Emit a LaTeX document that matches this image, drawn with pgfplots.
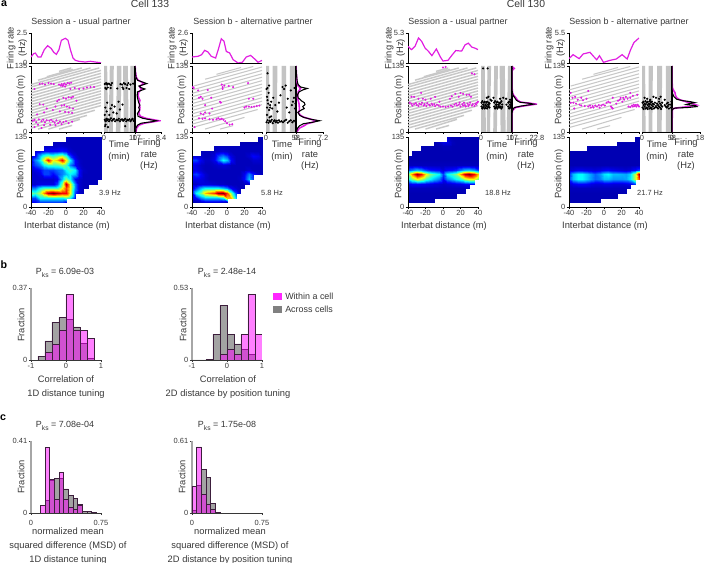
\documentclass[border=0pt]{standalone}
\usepackage{fontspec}
\setmainfont{Liberation Sans}
\usepackage{pgfplots}
\pgfplotsset{compat=1.18}
\usepackage{pgfplotstable}
\definecolor{txt}{RGB}{55,55,55}
\definecolor{mag}{RGB}{225,30,225}
\definecolor{mbar}{RGB}{255,0,255}
\definecolor{linegray}{RGB}{200,200,200}
\definecolor{bandgray}{RGB}{195,195,195}
\definecolor{edge}{RGB}{60,30,60}
\newcommand{\ticksize}{\fontsize{5.6}{6}\selectfont}
\newcommand{\labsize}{\fontsize{7}{8.6}\selectfont}
\newcommand{\ttlsize}{\fontsize{6.7}{8}\selectfont}
\newcommand{\Pks}[1]{P\raisebox{-.6ex}{\fontsize{5}{5}\selectfont ks} = #1}

\pgfplotsset{
  base/.style={scale only axis, axis x line*=bottom, axis y line*=left,
    axis line style={-,line width=.5pt,color=black}, tick style={black,line width=.4pt},
    tick align=outside, major tick length=1.6pt,
    tick label style={font=\ticksize,text=txt,inner sep=1pt}, clip=true},
  colormap={heat}{rgb255(0cm)=(0,0,160); rgb255(1cm)=(0,0,255); rgb255(3cm)=(0,255,255);
    rgb255(5cm)=(255,255,0); rgb255(7cm)=(255,0,0); rgb255(8cm)=(128,0,0)},
  hist/.style={base, width=52.5pt, height=54pt, y axis line style={color=gray!70,line width=1.1pt},
    x axis line style={color=txt}, tick style={txt}},
  gbar/.style={ybar interval, fill=black!60, fill opacity=.6, draw=edge, line width=.5pt},
  mbars/.style={ybar interval, fill=mbar, fill opacity=.5, draw=edge, line width=.5pt},
}

% rate vs distance: left, ymax, points
\newcommand{\ratepanel}[3]{
\begin{axis}[base, at={({#1*.75pt},{-63*.75pt})}, anchor=south west, width=52.5pt, height=22.5pt,
  xmin=-40, xmax=40, ymin=0, ymax=#2, xtick=\empty, ytick={0,#2}, yticklabels={0,#2}]
\addplot[mag, line width=.9pt] coordinates {#3};
\end{axis}}
% raster of flight lines and spikes
\newcommand{\rasterpanel}[4]{
\begin{axis}[base, at={({#1*.75pt},{-132*.75pt})}, anchor=south west, width=52.5pt, height=49.5pt,
  xmin=-40, xmax=40, ymin=0, ymax=135, xtick={-40,-20,0,20,40}, xticklabels={},
  ytick={0,135}, yticklabels={0,135}]
\addplot[linegray, line width=#3, unbounded coords=jump] table[x=x,y=y] {#2};
\addplot[only marks, mark=*, mark size=.55pt, color=mag] coordinates {#4};
\end{axis}}
% spikes over time
\newcommand{\timepanel}[5]{
\begin{axis}[base, at={({#1*.75pt},{-132*.75pt})}, anchor=south west, width=#2pt, height=49.5pt,
  xmin=0, xmax=#3, ymin=0, ymax=135, xtick={0,#3}, xticklabels={0,#3}, ytick=\empty]
\addplot[fill=bandgray, draw=none] coordinates {#4} \closedcycle;
\addplot[only marks, mark=*, mark size=.6pt, color=black] coordinates {#5};
\end{axis}}
% rate vs position
\newcommand{\tunepanel}[5]{
\begin{axis}[base, at={({#1*.75pt},{-132*.75pt})}, anchor=south west, width=#2pt, height=49.5pt,
  y axis line style={line width=.9pt}, xmin=0, xmax=#3, ymin=0, ymax=135, xtick={0,#3}, xticklabels={0,#3}, ytick=\empty]
\addplot[mag, line width=1.2pt] coordinates {#5};
\addplot[black, line width=.8pt] coordinates {#4};
\end{axis}}
% colour map
\newcommand{\heatpanel}[2]{
\begin{axis}[base, at={({#1*.75pt},{-207*.75pt})}, anchor=south west, width=52.5pt, height=52.5pt,
  xmin=-40, xmax=40, ymin=0, ymax=135, xtick={-40,-20,0,20,40}, xticklabels={-40,-20,0,20,40},
  ytick={0,135}, yticklabels={0,135}, point meta min=0, point meta max=8, colormap name=heat, axis on top]
\addplot[surf, shader=interp, mesh/cols=17, unbounded coords=jump, point meta=explicit]
  table[x=x,y=y,meta=v] {#2};
\end{axis}}

\pgfplotstableread[row sep=\\]{x y\\
-8 6\\7 13.5\\nan nan\\-20 6\\16 26\\nan nan\\-32 6\\24 34\\nan nan\\-40 8\\33 44.5\\nan nan\\
-40 14\\40 54\\nan nan\\-40 20\\40 60\\nan nan\\-40 26\\40 66\\nan nan\\-40 32\\40 72\\nan nan\\
-40 38\\40 78\\nan nan\\-40 44\\40 84\\nan nan\\-40 50\\40 90\\nan nan\\-40 56\\40 96\\nan nan\\
-40 62\\40 102\\nan nan\\-40 68\\40 108\\nan nan\\-40 74\\40 114\\nan nan\\-40 80\\40 120\\nan nan\\
-40 86\\40 126\\nan nan\\-40 92\\38 131\\nan nan\\-40 97\\28 131\\nan nan\\-32 106\\18 131\\nan nan\\
-22 113\\8 128\\nan nan\\-8 124\\6 131\\}\grayA
\pgfplotstableread[row sep=\\]{x y\\
-8 6\\7 13\\nan nan\\-25 6\\20 30\\nan nan\\-40 9\\35 46\\nan nan\\-40 16\\40 56\\nan nan\\
-40 23\\40 63\\nan nan\\-40 30\\40 70\\nan nan\\-40 37\\40 77\\nan nan\\-40 44\\40 84\\nan nan\\
-40 51\\40 91\\nan nan\\-40 58\\40 98\\nan nan\\-40 65\\40 105\\nan nan\\-40 72\\40 112\\nan nan\\
-40 79\\40 119\\nan nan\\-40 86\\40 126\\nan nan\\-38 94\\40 133\\nan nan\\-25 108\\30 134\\nan nan\\
-12 118\\16 132\\}\grayB

\pgfplotstableread[row sep=\\]{x y v\\
-40 9 1\\-35 9 1\\-30 9 1.5\\-25 9 1.5\\-20 9 1.5\\-15 9 1.5\\-10 9 1.5\\-5 9 1.5\\0 9 1\\5 9 nan\\10 9 nan\\15 9 nan\\20 9 nan\\25 9 nan\\30 9 nan\\35 9 nan\\40 9 nan\\
-40 18 1.5\\-35 18 1.5\\-30 18 3\\-25 18 3\\-20 18 3\\-15 18 3\\-10 18 3\\-5 18 3\\0 18 3.5\\5 18 3\\10 18 1\\15 18 nan\\20 18 nan\\25 18 nan\\30 18 nan\\35 18 nan\\40 18 nan\\
-40 27 4\\-35 27 3.5\\-30 27 4.5\\-25 27 6\\-20 27 7.5\\-15 27 8\\-10 27 7.5\\-5 27 7\\0 27 7\\5 27 5\\10 27 1.5\\15 27 .5\\20 27 .3\\25 27 nan\\30 27 nan\\35 27 nan\\40 27 nan\\
-40 36 2\\-35 36 2\\-30 36 3\\-25 36 3.5\\-20 36 3.5\\-15 36 3.5\\-10 36 3.5\\-5 36 5\\0 36 6.5\\5 36 5\\10 36 2\\15 36 .5\\20 36 .3\\25 36 .2\\30 36 nan\\35 36 nan\\40 36 nan\\
-40 45 .5\\-35 45 .5\\-30 45 .7\\-25 45 .7\\-20 45 .7\\-15 45 .7\\-10 45 1.5\\-5 45 4\\0 45 7.5\\5 45 5\\10 45 2\\15 45 .5\\20 45 .3\\25 45 .3\\30 45 .3\\35 45 .3\\40 45 nan\\
-40 54 .5\\-35 54 .5\\-30 54 .5\\-25 54 .5\\-20 54 .5\\-15 54 .5\\-10 54 .8\\-5 54 2.5\\0 54 4\\5 54 3\\10 54 1\\15 54 .5\\20 54 .3\\25 54 .3\\30 54 .3\\35 54 .3\\40 54 .3\\
-40 63 .5\\-35 63 .5\\-30 63 .7\\-25 63 1.5\\-20 63 1.5\\-15 63 1\\-10 63 1.5\\-5 63 2\\0 63 2.5\\5 63 3\\10 63 2.5\\15 63 1\\20 63 .3\\25 63 .3\\30 63 .3\\35 63 .3\\40 63 .3\\
-40 72 .5\\-35 72 .7\\-30 72 1\\-25 72 1.5\\-20 72 1.5\\-15 72 1.5\\-10 72 1.8\\-5 72 2\\0 72 3\\5 72 3.5\\10 72 3\\15 72 1\\20 72 .4\\25 72 .3\\30 72 .3\\35 72 .3\\40 72 .3\\
-40 81 1\\-35 81 1.5\\-30 81 2\\-25 81 3\\-20 81 3.5\\-15 81 3.5\\-10 81 3.5\\-5 81 4\\0 81 3.5\\5 81 2\\10 81 1\\15 81 .5\\20 81 .3\\25 81 .3\\30 81 .3\\35 81 .3\\40 81 .3\\
-40 90 1\\-35 90 2\\-30 90 3\\-25 90 5\\-20 90 7\\-15 90 5\\-10 90 5.5\\-5 90 7\\0 90 5\\5 90 3\\10 90 1\\15 90 .4\\20 90 .3\\25 90 .3\\30 90 .3\\35 90 .3\\40 90 .3\\
-40 99 .6\\-35 99 1\\-30 99 2.5\\-25 99 3.5\\-20 99 4\\-15 99 3.5\\-10 99 4\\-5 99 4.5\\0 99 3.5\\5 99 1.5\\10 99 .6\\15 99 .3\\20 99 .3\\25 99 .3\\30 99 .3\\35 99 .3\\40 99 .3\\
-40 108 nan\\-35 108 .5\\-30 108 .8\\-25 108 1\\-20 108 1\\-15 108 1\\-10 108 1\\-5 108 1.2\\0 108 1\\5 108 .5\\10 108 .3\\15 108 .3\\20 108 .3\\25 108 .3\\30 108 .3\\35 108 .3\\40 108 .3\\
-40 117 nan\\-35 117 nan\\-30 117 nan\\-25 117 .4\\-20 117 .4\\-15 117 .4\\-10 117 .5\\-5 117 .5\\0 117 .4\\5 117 .3\\10 117 .3\\15 117 .3\\20 117 .3\\25 117 .3\\30 117 .3\\35 117 .3\\40 117 .3\\
-40 126 nan\\-35 126 nan\\-30 126 nan\\-25 126 nan\\-20 126 nan\\-15 126 .3\\-10 126 .3\\-5 126 .3\\0 126 .3\\5 126 .3\\10 126 .3\\15 126 .3\\20 126 .3\\25 126 .3\\30 126 .3\\35 126 .3\\40 126 .3\\
-40 135 nan\\-35 135 nan\\-30 135 nan\\-25 135 nan\\-20 135 nan\\-15 135 nan\\-10 135 nan\\-5 135 nan\\0 135 .3\\5 135 .3\\10 135 .3\\15 135 .3\\20 135 .3\\25 135 .3\\30 135 .3\\35 135 .3\\40 135 .3\\
}\heatAa
\pgfplotstableread[row sep=\\]{x y v\\
-40 9 .3\\-35 9 .3\\-30 9 .5\\-25 9 .7\\-20 9 .7\\-15 9 .7\\-10 9 .7\\-5 9 .5\\0 9 .3\\5 9 nan\\10 9 nan\\15 9 nan\\20 9 nan\\25 9 nan\\30 9 nan\\35 9 nan\\40 9 nan\\
-40 18 .7\\-35 18 1\\-30 18 2\\-25 18 2.5\\-20 18 2.5\\-15 18 2.5\\-10 18 2.5\\-5 18 3\\0 18 5.5\\5 18 5.5\\10 18 2.5\\15 18 nan\\20 18 nan\\25 18 nan\\30 18 nan\\35 18 nan\\40 18 nan\\
-40 27 1\\-35 27 3\\-30 27 4\\-25 27 5.5\\-20 27 6\\-15 27 6.5\\-10 27 7.8\\-5 27 8\\0 27 6.5\\5 27 4\\10 27 1.5\\15 27 .5\\20 27 nan\\25 27 nan\\30 27 nan\\35 27 nan\\40 27 nan\\
-40 36 .6\\-35 36 1.5\\-30 36 2.5\\-25 36 3\\-20 36 3\\-15 36 3\\-10 36 3\\-5 36 2.5\\0 36 2\\5 36 1\\10 36 .5\\15 36 .3\\20 36 .3\\25 36 nan\\30 36 nan\\35 36 nan\\40 36 nan\\
-40 45 .3\\-35 45 .4\\-30 45 .6\\-25 45 .6\\-20 45 .6\\-15 45 .5\\-10 45 .4\\-5 45 .4\\0 45 .3\\5 45 .3\\10 45 .3\\15 45 .3\\20 45 .3\\25 45 .5\\30 45 nan\\35 45 nan\\40 45 nan\\
-40 54 .7\\-35 54 .8\\-30 54 .7\\-25 54 .5\\-20 54 .3\\-15 54 .3\\-10 54 .3\\-5 54 .3\\0 54 .3\\5 54 .3\\10 54 .3\\15 54 .4\\20 54 1\\25 54 2.5\\30 54 1.5\\35 54 nan\\40 54 nan\\
-40 63 1.2\\-35 63 1.5\\-30 63 1\\-25 63 .5\\-20 63 .3\\-15 63 .3\\-10 63 .3\\-5 63 .3\\0 63 .3\\5 63 .3\\10 63 .3\\15 63 .3\\20 63 .8\\25 63 2\\30 63 1.2\\35 63 .5\\40 63 .3\\
-40 72 .5\\-35 72 .8\\-30 72 .5\\-25 72 .3\\-20 72 .3\\-15 72 .3\\-10 72 .3\\-5 72 .3\\0 72 .3\\5 72 .3\\10 72 .3\\15 72 .3\\20 72 .3\\25 72 .5\\30 72 .3\\35 72 .3\\40 72 .3\\
-40 81 .8\\-35 81 .7\\-30 81 .4\\-25 81 .3\\-20 81 .3\\-15 81 .4\\-10 81 .5\\-5 81 .6\\0 81 .5\\5 81 .3\\10 81 .3\\15 81 .3\\20 81 .3\\25 81 .3\\30 81 .3\\35 81 .3\\40 81 .3\\
-40 90 1.5\\-35 90 1.5\\-30 90 .8\\-25 90 .4\\-20 90 .4\\-15 90 .8\\-10 90 1.8\\-5 90 3\\0 90 2.5\\5 90 1\\10 90 .3\\15 90 .3\\20 90 .3\\25 90 .3\\30 90 .5\\35 90 .5\\40 90 .3\\
-40 99 .6\\-35 99 .6\\-30 99 .4\\-25 99 .3\\-20 99 .3\\-15 99 .6\\-10 99 1.5\\-5 99 2\\0 99 1.5\\5 99 .7\\10 99 .3\\15 99 .3\\20 99 .3\\25 99 .5\\30 99 1\\35 99 .8\\40 99 .3\\
-40 108 nan\\-35 108 nan\\-30 108 .3\\-25 108 .3\\-20 108 .3\\-15 108 .3\\-10 108 .4\\-5 108 .5\\0 108 .4\\5 108 .3\\10 108 .3\\15 108 .3\\20 108 .3\\25 108 .3\\30 108 .3\\35 108 .3\\40 108 .3\\
-40 117 nan\\-35 117 nan\\-30 117 nan\\-25 117 nan\\-20 117 nan\\-15 117 .3\\-10 117 .3\\-5 117 .3\\0 117 .3\\5 117 .3\\10 117 .3\\15 117 .3\\20 117 .3\\25 117 .3\\30 117 .3\\35 117 .3\\40 117 .3\\
-40 126 nan\\-35 126 nan\\-30 126 nan\\-25 126 nan\\-20 126 nan\\-15 126 nan\\-10 126 nan\\-5 126 nan\\0 126 nan\\5 126 nan\\10 126 nan\\15 126 .2\\20 126 .2\\25 126 .2\\30 126 .2\\35 126 .2\\40 126 .2\\
-40 135 nan\\-35 135 nan\\-30 135 nan\\-25 135 nan\\-20 135 nan\\-15 135 nan\\-10 135 nan\\-5 135 nan\\0 135 nan\\5 135 nan\\10 135 nan\\15 135 nan\\20 135 nan\\25 135 nan\\30 135 nan\\35 135 .2\\40 135 .2\\
}\heatAb
\pgfplotstableread[row sep=\\]{x y v\\
-40 9 .2\\-35 9 .2\\-30 9 .2\\-25 9 .2\\-20 9 .2\\-15 9 .2\\-10 9 .2\\-5 9 nan\\0 9 nan\\5 9 nan\\10 9 nan\\15 9 nan\\20 9 nan\\25 9 nan\\30 9 nan\\35 9 nan\\40 9 nan\\
-40 18 .2\\-35 18 .2\\-30 18 .2\\-25 18 .2\\-20 18 .2\\-15 18 .2\\-10 18 .2\\-5 18 .2\\0 18 .2\\5 18 .2\\10 18 .2\\15 18 .2\\20 18 nan\\25 18 nan\\30 18 nan\\35 18 nan\\40 18 nan\\
-40 27 .2\\-35 27 .2\\-30 27 .2\\-25 27 .2\\-20 27 .2\\-15 27 .2\\-10 27 .2\\-5 27 .2\\0 27 .2\\5 27 .2\\10 27 .2\\15 27 .2\\20 27 .2\\25 27 .2\\30 27 nan\\35 27 nan\\40 27 nan\\
-40 36 .3\\-35 36 .3\\-30 36 .3\\-25 36 .3\\-20 36 .3\\-15 36 .3\\-10 36 .3\\-5 36 .3\\0 36 .3\\5 36 .3\\10 36 .3\\15 36 .3\\20 36 .3\\25 36 .3\\30 36 .3\\35 36 nan\\40 36 nan\\
-40 45 .8\\-35 45 1\\-30 45 1\\-25 45 .9\\-20 45 .8\\-15 45 .7\\-10 45 .6\\-5 45 .5\\0 45 .4\\5 45 .5\\10 45 .6\\15 45 .7\\20 45 .8\\25 45 1\\30 45 1\\35 45 1\\40 45 nan\\
-40 54 3\\-35 54 4\\-30 54 5\\-25 54 4.5\\-20 54 3.5\\-15 54 3\\-10 54 2.5\\-5 54 2\\0 54 1\\5 54 2\\10 54 2.5\\15 54 3\\20 54 3.5\\25 54 4.5\\30 54 5\\35 54 5\\40 54 4\\
-40 63 4\\-35 63 6\\-30 63 7.8\\-25 63 7\\-20 63 5\\-15 63 4\\-10 63 3.5\\-5 63 3\\0 63 1.5\\5 63 3\\10 63 3.5\\15 63 4\\20 63 6\\25 63 7.5\\30 63 8\\35 63 7\\40 63 5.5\\
-40 72 1.5\\-35 72 2\\-30 72 2.5\\-25 72 2.2\\-20 72 1.5\\-15 72 1.2\\-10 72 1.1\\-5 72 1\\0 72 .6\\5 72 1\\10 72 1.1\\15 72 1.3\\20 72 2\\25 72 2.5\\30 72 2.6\\35 72 2.2\\40 72 1.5\\
-40 81 .3\\-35 81 .3\\-30 81 .3\\-25 81 .3\\-20 81 .3\\-15 81 .3\\-10 81 .3\\-5 81 .3\\0 81 .3\\5 81 .3\\10 81 .3\\15 81 .3\\20 81 .3\\25 81 .3\\30 81 .3\\35 81 .3\\40 81 .3\\
-40 90 .2\\-35 90 .2\\-30 90 .2\\-25 90 .2\\-20 90 .2\\-15 90 .2\\-10 90 .2\\-5 90 .2\\0 90 .2\\5 90 .2\\10 90 .2\\15 90 .2\\20 90 .2\\25 90 .2\\30 90 .2\\35 90 .2\\40 90 .2\\
-40 99 .2\\-35 99 .2\\-30 99 .2\\-25 99 .2\\-20 99 .2\\-15 99 .2\\-10 99 .2\\-5 99 .2\\0 99 .2\\5 99 .2\\10 99 .2\\15 99 .2\\20 99 .2\\25 99 .2\\30 99 .2\\35 99 .2\\40 99 .2\\
-40 108 nan\\-35 108 .2\\-30 108 .2\\-25 108 .2\\-20 108 .2\\-15 108 .2\\-10 108 .2\\-5 108 .2\\0 108 .2\\5 108 .2\\10 108 .2\\15 108 .2\\20 108 .2\\25 108 .2\\30 108 .2\\35 108 .2\\40 108 .2\\
-40 117 nan\\-35 117 nan\\-30 117 nan\\-25 117 .2\\-20 117 .2\\-15 117 .2\\-10 117 .2\\-5 117 .2\\0 117 .3\\5 117 .3\\10 117 .2\\15 117 .2\\20 117 .2\\25 117 .2\\30 117 .2\\35 117 .2\\40 117 .2\\
-40 126 nan\\-35 126 nan\\-30 126 nan\\-25 126 nan\\-20 126 nan\\-15 126 nan\\-10 126 .2\\-5 126 .4\\0 126 .8\\5 126 .8\\10 126 .3\\15 126 .2\\20 126 .2\\25 126 .2\\30 126 .2\\35 126 .2\\40 126 .2\\
-40 135 nan\\-35 135 nan\\-30 135 nan\\-25 135 nan\\-20 135 nan\\-15 135 nan\\-10 135 nan\\-5 135 nan\\0 135 nan\\5 135 .5\\10 135 .2\\15 135 .2\\20 135 .2\\25 135 .2\\30 135 .2\\35 135 .2\\40 135 .2\\
}\heatBa
\pgfplotstableread[row sep=\\]{x y v\\
-40 9 .2\\-35 9 .2\\-30 9 .2\\-25 9 .2\\-20 9 .2\\-15 9 .2\\-10 9 .2\\-5 9 .2\\0 9 nan\\5 9 nan\\10 9 nan\\15 9 nan\\20 9 nan\\25 9 nan\\30 9 nan\\35 9 nan\\40 9 nan\\
-40 18 .2\\-35 18 .2\\-30 18 .2\\-25 18 .2\\-20 18 .2\\-15 18 .2\\-10 18 .2\\-5 18 .2\\0 18 .2\\5 18 .2\\10 18 .2\\15 18 .2\\20 18 nan\\25 18 nan\\30 18 nan\\35 18 nan\\40 18 nan\\
-40 27 .2\\-35 27 .2\\-30 27 .2\\-25 27 .2\\-20 27 .2\\-15 27 .2\\-10 27 .2\\-5 27 .2\\0 27 .2\\5 27 .2\\10 27 .2\\15 27 .2\\20 27 .2\\25 27 .2\\30 27 nan\\35 27 nan\\40 27 nan\\
-40 36 .3\\-35 36 .3\\-30 36 .3\\-25 36 .3\\-20 36 .3\\-15 36 .3\\-10 36 .3\\-5 36 .3\\0 36 .3\\5 36 .3\\10 36 .3\\15 36 .3\\20 36 .3\\25 36 .3\\30 36 .3\\35 36 nan\\40 36 nan\\
-40 45 .5\\-35 45 .8\\-30 45 1\\-25 45 1\\-20 45 .9\\-15 45 .7\\-10 45 .6\\-5 45 .6\\0 45 .7\\5 45 .7\\10 45 .6\\15 45 .6\\20 45 .6\\25 45 .7\\30 45 .8\\35 45 1.5\\40 45 nan\\
-40 54 1.5\\-35 54 2.5\\-30 54 3\\-25 54 3\\-20 54 2.6\\-15 54 2.2\\-10 54 1.8\\-5 54 2\\0 54 2.5\\5 54 2.5\\10 54 2.2\\15 54 2.2\\20 54 2.2\\25 54 2.3\\30 54 2.8\\35 54 4.5\\40 54 6.5\\
-40 63 1.3\\-35 63 2.5\\-30 63 3\\-25 63 3\\-20 63 2.6\\-15 63 2.2\\-10 63 1.8\\-5 63 2.2\\0 63 2.8\\5 63 3\\10 63 2.5\\15 63 2.5\\20 63 2.4\\25 63 2.3\\30 63 2.7\\35 63 4.5\\40 63 7.8\\
-40 72 .4\\-35 72 .6\\-30 72 .8\\-25 72 .8\\-20 72 .7\\-15 72 .7\\-10 72 .6\\-5 72 .7\\0 72 .9\\5 72 1\\10 72 .8\\15 72 .7\\20 72 .6\\25 72 .5\\30 72 .6\\35 72 1\\40 72 1.5\\
-40 81 .2\\-35 81 .2\\-30 81 .2\\-25 81 .2\\-20 81 .2\\-15 81 .2\\-10 81 .2\\-5 81 .2\\0 81 .2\\5 81 .2\\10 81 .2\\15 81 .2\\20 81 .2\\25 81 .2\\30 81 .2\\35 81 .2\\40 81 .2\\
-40 90 .2\\-35 90 .2\\-30 90 .2\\-25 90 .2\\-20 90 .2\\-15 90 .2\\-10 90 .2\\-5 90 .2\\0 90 .2\\5 90 .2\\10 90 .2\\15 90 .2\\20 90 .2\\25 90 .2\\30 90 .2\\35 90 .2\\40 90 .2\\
-40 99 .2\\-35 99 .2\\-30 99 .2\\-25 99 .2\\-20 99 .2\\-15 99 .2\\-10 99 .2\\-5 99 .2\\0 99 .2\\5 99 .2\\10 99 .2\\15 99 .2\\20 99 .2\\25 99 .2\\30 99 .2\\35 99 .2\\40 99 .2\\
-40 108 .2\\-35 108 .2\\-30 108 .2\\-25 108 .2\\-20 108 .2\\-15 108 .2\\-10 108 .2\\-5 108 .2\\0 108 .2\\5 108 .2\\10 108 .2\\15 108 .2\\20 108 .2\\25 108 .2\\30 108 .2\\35 108 .2\\40 108 .2\\
-40 117 nan\\-35 117 nan\\-30 117 nan\\-25 117 nan\\-20 117 .2\\-15 117 .2\\-10 117 .2\\-5 117 .2\\0 117 .2\\5 117 .2\\10 117 .2\\15 117 .2\\20 117 .2\\25 117 .2\\30 117 .2\\35 117 .2\\40 117 .2\\
-40 126 nan\\-35 126 nan\\-30 126 nan\\-25 126 nan\\-20 126 nan\\-15 126 nan\\-10 126 nan\\-5 126 nan\\0 126 nan\\5 126 nan\\10 126 nan\\15 126 .2\\20 126 .2\\25 126 .2\\30 126 .2\\35 126 .2\\40 126 .2\\
-40 135 nan\\-35 135 nan\\-30 135 nan\\-25 135 nan\\-20 135 nan\\-15 135 nan\\-10 135 nan\\-5 135 nan\\0 135 nan\\5 135 nan\\10 135 nan\\15 135 nan\\20 135 nan\\25 135 nan\\30 135 nan\\35 135 .2\\40 135 .2\\
}\heatBb

\begin{document}
\begin{tikzpicture}[x=.75pt,y=-.75pt,
  lab/.style={font=\labsize,text=txt,inner sep=0pt,align=center},
  ttl/.style={font=\ttlsize,text=txt,inner sep=0pt,align=center}]
\path[use as bounding box] (0,0) rectangle (708,563);

% ---- cell 133, session a
\ratepanel{31}{2.5}{(-40,.5)(-37,.78)(-35,.83)(-32,.5)(-28.6,.5)(-24.8,1.11)(-21,1.44)(-17,1.22)(-14,.89)(-11,.72)(-8,1.11)(-5.3,1.89)(-.8,2.06)(2.3,1.89)(5,1.11)(8,.42)(10.7,.22)(14.5,.14)(18.3,.11)(22,.08)(27.8,.14)(33.5,.08)(40,.02)}
\rasterpanel{31}{\grayA}{1.1pt}{(-30,98)(-27,99)(-24,97)(-20,100)(-17,99)(-14,98)(-8,97)(-6,95)(-5,98)(-4,94)(-3,96)(-2,99)(-1,93)(0,97)(2,100)(4,99)(6,101)(-36,88)(5,88)(10,90)(15,88)(20,89)(24,91)(28,92)(32,92)(-3,70)(0,68)(3,71)(6,70)(8,72)(-8,66)(12,64)(-10,63)(-30,57)(-26,56)(-12,52)(-5,54)(-2,55)(1,52)(-22,48)(4,50)(8,48)(-15,45)(-7,42)(-1,41)(3,40)(7,39)(-25,40)(-33,36)(-38,23)(-36,25)(-34,20)(-31,26)(-28,22)(-26,25)(-24,20)(-22,24)(-19,23)(-17,25)(-15,22)(-13,19)(-11,24)(-9,18)(-7,21)(-5,16)(-3,20)(0,22)(3,18)(7,21)(-32,15)(-25,14)(-18,15)(-12,14)(-36,10)(-28,8)}
\timepanel{104}{23.25}{117}{(0,0)(0,135)(12,135)(15,0)(17,0)(22,135)(37,135)(33,0)(45,0)(49,135)(66,135)(62,0)(75,0)(72,135)(90,135)(93,0)(97,0)(100,135)(117,135)(117,0)}{(3,25)(6,22)(9,27)(12,24)(15,26)(19,22)(22,25)(26,28)(30,23)(34,25)(38,27)(42,22)(47,25)(52,24)(56,27)(60,22)(64,25)(68,26)(72,23)(76,25)(80,27)(84,22)(88,25)(92,24)(96,26)(100,22)(104,25)(108,27)(112,23)(115,25)(3,98)(8,100)(12,97)(15,99)(20,98)(26,96)(30,100)(62,98)(68,97)(75,100)(80,98)(88,96)(92,100)(100,97)(110,99)(5,90)(9,88)(14,91)(25,90)(50,89)(70,91)(73,88)(85,90)(95,88)(5,50)(10,42)(12,60)(20,35)(25,48)(30,55)(35,40)(40,52)(48,38)(55,62)(60,46)(70,56)(4,12)(3,35)(6,15)(15,10)(80,12)}
\tunepanel{135}{19.5}{8.4}{(.2,0)(.3,8)(.8,14)(2,18)(5.5,21)(6.9,23)(5,25)(2.5,28)(1,32)(.8,38)(1.5,45)(1.2,50)(1.6,55)(1.2,60)(1,65)(.8,70)(.7,75)(.8,82)(3.2,88)(1.8,91)(1.3,94)(3.8,99)(2.5,102)(.8,106)(.3,112)(.1,125)(.05,135)}{(.3,0)(.5,8)(1.3,14)(3,18)(6,21)(7.8,23)(6,25)(3.5,28)(1.8,32)(1.2,38)(1.5,45)(1.6,50)(1.4,55)(1.4,60)(1.6,65)(1.2,70)(1,75)(1.2,82)(2.2,88)(1.6,91)(1.6,94)(2.8,99)(2.2,102)(1,106)(.4,112)(.1,125)(.05,135)}
\heatpanel{31}{\heatAa}

% ---- cell 133, session b
\ratepanel{192}{2.6}{(-40,.52)(-33,.58)(-29,.72)(-25.5,1.1)(-21.7,.95)(-18,.58)(-13,.43)(-10,1.16)(-6.5,2.1)(-3.4,1.88)(-.8,1)(3,.87)(7,.29)(12.6,0)(17.5,.06)(22,.52)(27,.66)(31.6,.35)(35.4,.06)(40,.23)}
\rasterpanel{192}{\grayB}{.8pt}{(-39,92)(-38,90)(-33,85)(-22,86)(-6,97)(-5,92)(-5,88)(-3,95)(2,94)(7,92)(24,100)(-32,70)(-30,72)(-28,68)(-18,70)(-8,62)(-7,60)(25,68)(30,68)(-25,55)(-17,48)(20,50)(22,52)(25,52)(28,51)(31,52)(34,53)(37,54)(-30,38)(-27,36)(-25,40)(-20,38)(-28,27)(-25,28)(-20,26)(-16,25)(-12,26)(-10,28)(-8,26)(-6,27)(-4,25)(-2,22)(0,18)(3,15)(6,16)(-37,10)(-32,28)}
\timepanel{266}{22.5}{58}{(0,0)(0,135)(6,135)(7,0)(13,0)(13,135)(22,135)(21,0)(30,0)(30,135)(39,135)(38,0)(46,0)(46,135)(58,135)(58,0)}{(1,20)(3,24)(5,19)(7,23)(9,21)(11,25)(13,18)(15,22)(17,24)(19,20)(21,23)(23,19)(25,24)(27,21)(30,22)(33,20)(36,23)(39,25)(42,19)(45,22)(48,24)(51,20)(54,23)(57,21)(2,50)(4,58)(3,65)(6,45)(8,55)(2,72)(5,80)(1,88)(3,90)(6,95)(8,50)(10,62)(12,48)(14,70)(18,55)(22,42)(25,60)(28,75)(32,92)(35,88)(38,95)(40,50)(42,68)(45,40)(50,55)(52,62)(54,70)(56,48)(57,58)(55,90)(48,85)(3,120)(2,35)(7,30)(10,32)}
\tunepanel{296}{20.25}{7.2}{(.1,0)(.4,8)(1,13)(2,17)(4.5,20)(6.3,23)(4,26)(2,30)(1,34)(.5,40)(1.2,44)(2.2,48)(1.8,52)(2.4,56)(2.2,60)(1.4,64)(.6,70)(.4,76)(.8,82)(1.8,86)(3,89)(1.2,92)(.5,98)(.3,105)(.1,120)(0,135)}{(.2,0)(.9,8)(2.2,13)(3,17)(4.5,20)(5.4,23)(4,26)(2.2,30)(1.2,34)(.6,40)(.9,44)(.9,50)(.8,58)(.6,64)(.4,70)(.5,76)(.6,82)(1.2,89)(.5,95)(.2,105)(0,135)}
\heatpanel{192}{\heatAb}

% ---- cell 130, session a
\ratepanel{408}{5.3}{(-40,2.94)(-36,2.36)(-32,2.94)(-28,4.42)(-24.4,3.83)(-20.5,2.65)(-16.6,2.06)(-12.7,1.3)(-7.6,2.47)(-3,1.06)(0,.35)(5.7,.47)(10.7,1.47)(14.6,2.2)(21.3,2.1)(25.2,3.2)(29,3.5)(33,2.8)(37,2.6)(40,2.36)}
\rasterpanel{408}{\grayA}{1.1pt}{(-38,60)(-36,58)(-35,54)(-33,57)(-31,59)(-30,55)(-28,53)(-27,58)(-25,56)(-24,60)(-22,54)(-21,57)(-19,53)(-18,59)(-16,56)(-15,54)(-13,58)(-12,55)(-10,57)(-9,53)(-7,56)(-5,54)(-3,52)(0,52)(3,51)(6,52)(9,54)(11,52)(13,56)(15,58)(16,54)(18,56)(19,60)(20,52)(22,57)(23,54)(24,60)(25,55)(26,52)(28,58)(29,53)(30,56)(31,60)(33,54)(34,57)(36,53)(37,58)(38,56)(39,60)(40,62)(-36,72)(-33,72)(-28,68)(-23,68)(-20,66)(-14,68)(-9,72)(-4,62)(8,68)(10,73)(14,78)(18,72)(20,80)(23,78)(27,76)(30,76)(32,72)(-25,80)(0,132)(3,133)(33,120)(36,118)}
\timepanel{481}{23.25}{117}{(0,0)(0,135)(14,135)(19,0)(22,0)(24,135)(38,135)(34,0)(46,0)(50,135)(64,135)(60,0)(74,0)(70,135)(90,135)(93,0)(97,0)(102,135)(117,135)(117,0)}{(2,52)(2,60)(5,48)(5,63)(8,56)(8,50)(11,60)(11,53)(14,48)(14,62)(17,56)(17,50)(20,60)(20,53)(23,48)(23,62)(26,56)(26,51)(29,60)(29,53)(32,50)(32,58)(50,52)(50,60)(53,48)(53,63)(56,56)(56,50)(59,60)(59,53)(62,48)(62,62)(65,56)(65,51)(68,60)(68,53)(71,50)(71,58)(74,52)(74,60)(77,48)(77,63)(80,56)(80,51)(103,52)(103,60)(106,48)(106,62)(109,56)(109,50)(112,60)(112,53)(115,48)(115,62)(22,70)(28,72)(36,66)(40,64)(47,70)(72,68)(84,70)(95,68)(8,130)(25,130)(110,66)(96,56)}
\tunepanel{512}{18.75}{22.8}{(0,0)(.05,35)(.3,44)(2,50)(8,53)(17,56)(19.8,57)(15,59)(7,61)(4,65)(2.5,70)(1,75)(.3,80)(.05,90)(0,135)}{(0,0)(.1,38)(.5,44)(3,50)(10,53)(19,56)(21.9,57)(16,59)(8,61)(5,65)(3.5,70)(1.5,75)(.5,80)(.1,90)(0,125)(1,128)(2,130)(1,132)(0,134)(0,135)}
\heatpanel{408}{\heatBa}

% ---- cell 130, session b
\ratepanel{569}{5.5}{(-40,.8)(-35.4,1.53)(-28.4,.8)(-23.8,1.66)(-16,1.96)(-12,1.22)(-8.3,.6)(-5.2,1.34)(-.6,.12)(7,.49)(14,.73)(20.7,1.53)(26.5,.73)(30.3,2.4)(34.2,3.75)(40,4.58)}
\rasterpanel{569}{\grayB}{.8pt}{(-38,80)(-36,70)(-33,72)(-30,66)(-26,70)(-24,65)(-20,68)(-38,60)(-35,60)(-32,58)(-28,56)(-26,54)(-22,53)(-18,52)(-16,54)(-15,50)(-13,53)(-12,50)(-10,54)(-8,52)(-6,55)(-5,50)(-3,54)(-1,56)(1,54)(3,60)(5,62)(7,60)(8,52)(9,50)(10,48)(14,58)(16,64)(18,66)(19,70)(21,62)(22,70)(23,66)(25,72)(27,68)(30,70)(33,74)(38,76)(28,52)(30,51)(32,54)(33,52)(34,56)(35,53)(36,55)(37,52)(38,56)(39,54)(40,52)(30,80)(10,70)(-18,84)(-34,48)}
\timepanel{642}{22.5}{58}{(0,0)(0,135)(6,135)(7,0)(13,0)(13,135)(21,135)(20,0)(29,0)(29,135)(39,135)(38,0)(46,0)(46,135)(58,135)(58,0)}{(1,50)(1,60)(3,47)(3,55)(3,62)(5,52)(5,58)(7,48)(7,56)(7,63)(9,50)(9,60)(11,47)(11,55)(11,62)(13,52)(13,58)(15,48)(15,56)(15,63)(17,50)(17,60)(19,47)(19,55)(19,62)(21,52)(21,58)(23,48)(23,56)(25,50)(25,60)(27,53)(29,50)(29,58)(31,48)(31,55)(33,52)(33,62)(35,50)(35,58)(37,47)(37,55)(39,52)(39,60)(44,55)(46,52)(48,50)(48,58)(50,53)(50,60)(52,48)(52,56)(5,70)(10,68)(16,66)(22,72)(27,70)(33,68)(36,72)(44,66)(56,56)(56,50)(57,62)}
\tunepanel{672}{21}{18}{(0,0)(.05,44)(.5,47)(2,49)(10,50)(16,52)(15,54)(9,56)(11,58)(14.7,60)(12,62)(7,64)(3,67)(1.3,72)(.4,78)(.1,85)(0,135)}{(0,0)(.2,45)(1,48)(5,50)(11,52)(15.8,55)(13,58)(9,62)(5,66)(3,70)(2.2,75)(2,80)(1.2,84)(.3,90)(.1,100)(0,135)}
\heatpanel{569}{\heatBb}

% ---- histograms b
\begin{axis}[hist, at={(31*.75pt,-360*.75pt)}, anchor=south west, xmin=-1, xmax=1, ymin=0, ymax=.37,
  xtick={-1,0,1}, xticklabels={-1,0,1}, ytick={0,.37}, yticklabels={0,0.37}]
\addplot[gbar] coordinates {(-.8,.02)(-.6,.098)(-.4,.194)(-.2,.219)(0,.21)(.2,.17)(.4,.085)(.6,.01)(.8,.01)};
\addplot[mbars] coordinates {(-.6,.04)(-.4,.08)(-.2,.15)(0,.337)(.2,.15)(.4,.15)(.6,.113)(.8,.113)};
\end{axis}
\begin{axis}[hist, at={(192*.75pt,-360*.75pt)}, anchor=south west, xmin=-1, xmax=1, ymin=0, ymax=.53,
  xtick={-1,0,1}, xticklabels={-1,0,1}, ytick={0,.53}, yticklabels={0,0.53}]
\addplot[gbar] coordinates {(-1,0)(-.8,0)(-.6,.002)(-.4,.19)(-.2,.40)(0,.19)(.2,.118)(.4,.076)(.6,.04)(.8,0)(1,0)};
\addplot[mbars] coordinates {(-.2,.04)(0,.076)(.2,.04)(.4,.187)(.6,.483)(.8,.187)(1,.187)};
\end{axis}
% ---- histograms c
\begin{axis}[hist, at={(31*.75pt,-513*.75pt)}, anchor=south west, xmin=0, xmax=.75, ymin=0, ymax=.41,
  xtick={0,.75}, xticklabels={0,0.75}, ytick={0,.41}, yticklabels={0,0.41}, xticklabel style={yshift=-3pt}]
\addplot[gbar] coordinates {(.15,.07)(.2,.185)(.25,.198)(.3,.196)(.35,.137)(.4,.10)(.45,.082)(.5,.05)(.55,.01)(.6,.011)(.65,.005)(.7,.005)};
\addplot[mbars] coordinates {(.1,.042)(.15,.375)(.2,.189)(.25,.076)(.3,.229)(.35,.076)(.4,.03)(.45,.02)(.5,.042)(.55,.042)};
\end{axis}
\begin{axis}[hist, at={(192*.75pt,-513*.75pt)}, anchor=south west, xmin=0, xmax=.75, ymin=0, ymax=.61,
  xtick={0,.75}, xticklabels={0,0.75}, ytick={0,.61}, yticklabels={0,0.61}, xticklabel style={yshift=-3pt}]
\addplot[gbar] coordinates {(0,.025)(.05,.233)(.1,.372)(.15,.298)(.2,.082)(.25,.008)(.3,.008)};
\addplot[mbars] coordinates {(0,.227)(.05,.56)(.1,.156)(.15,.077)(.2,.03)(.25,.03)};
\end{axis}

% ---- text of panel a
\node[font=\bfseries\fontsize{8}{8}\selectfont,inner sep=0pt] at (4,4) {a};
\node[font=\bfseries\fontsize{8}{8}\selectfont,inner sep=0pt] at (4,265) {b};
\node[font=\bfseries\fontsize{8}{8}\selectfont,inner sep=0pt] at (3,418) {c};
\node[lab,font=\fontsize{7.8}{9}\selectfont] at (150,4) {Cell 133};
\node[lab,font=\fontsize{7.8}{9}\selectfont] at (526,4) {Cell 130};
\foreach \L/\T/\Tb/\Ta/\Hz/\Hx in {31/81/119/149/3.9 Hz/110,192/242/282/310/5.8 Hz/272,408/458/497/526/18.8 Hz/498,569/619/657/686/21.7 Hz/650}{
  \node[font=\ticksize,text=txt,inner sep=0pt] at (\Hx,193) {\Hz};
  \node[lab] at (\Tb,151) {Time\\(min)};
  \node[lab] at (\Ta,155) {Firing\\rate\\(Hz)};
}
\node[ttl] at (81,22) {Session a - usual partner};
\node[ttl] at (253,22) {Session b - alternative partner};
\node[ttl] at (458,22) {Session a - usual partner};
\node[ttl] at (629,22) {Session b - alternative partner};
\foreach \L/\Lx in {11/31,172/192,389/408,549/569}{
  \node[lab,rotate=90] at ({\L+6},48) {Firing rate\\(Hz)};
  \node[lab,rotate=90] at ({\L+10},100) {Position (m)};
  \node[lab,rotate=90] at ({\L+10},174) {Position (m)};
  \node[lab] at ({\Lx+36},226) {Interbat distance (m)};
}
% ---- text of b and c
\node[ttl] at (65,273) {\Pks{6.09e-03}};
\node[ttl] at (227,273) {\Pks{2.48e-14}};
\node[lab,rotate=90] at (21,325) {Fraction};
\node[lab,rotate=90] at (183,325) {Fraction};
\node[lab] at (66,387) {Correlation of\\[2.2pt]1D distance tuning};
\node[lab] at (228,387) {Correlation of\\[2.2pt]2D distance by position tuning};
\fill[mbar!85] (273,293) rectangle (282,300);
\fill[black!50] (273,306) rectangle (282,313);
\node[ttl,anchor=west] at (285,296) {Within a cell};
\node[ttl,anchor=west] at (285,309) {Across cells};
\node[ttl] at (65,426) {\Pks{7.08e-04}};
\node[ttl] at (227,426) {\Pks{1.75e-08}};
\node[lab,rotate=90] at (21,477) {Fraction};
\node[lab,rotate=90] at (182,477) {Fraction};
\node[lab] at (68,546) {normalized mean\\[2.2pt]squared difference (MSD) of\\[2.2pt]1D distance tuning};
\node[lab] at (230,546) {normalized mean\\[2.2pt]squared difference (MSD) of\\[2.2pt]2D distance by position tuning};
\end{tikzpicture}
\end{document}
